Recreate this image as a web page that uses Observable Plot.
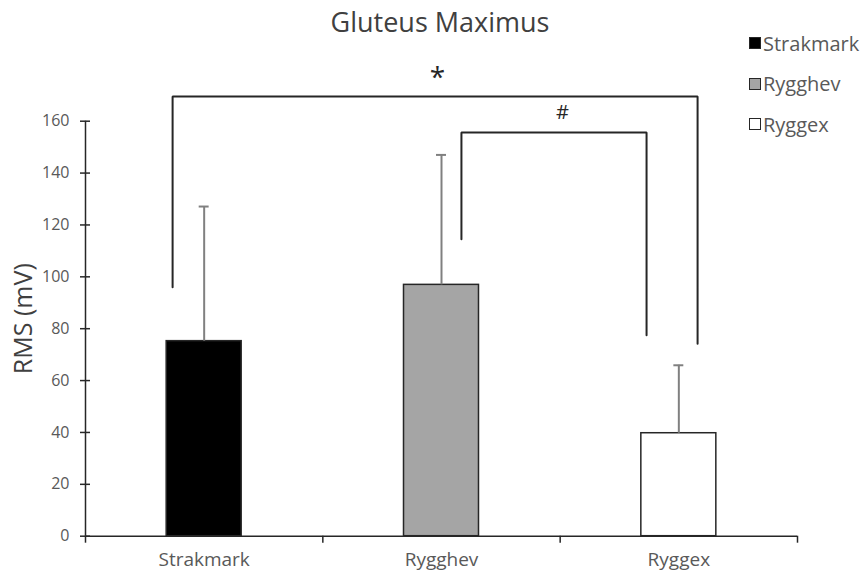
<!DOCTYPE html>
<html><head><meta charset="utf-8">
<script src="https://cdn.jsdelivr.net/npm/d3@7"></script>
<script src="https://cdn.jsdelivr.net/npm/@observablehq/plot@0.6"></script>
<style>
body{margin:0;background:#fff;font-family:"Open Sans",Lato,sans-serif;}
#wrap{position:relative;width:867px;height:574px;overflow:hidden;}
#title{height:40px;width:880px;text-align:center;font-size:27px;line-height:44px;color:#404040;}
#legend{position:absolute;left:749px;top:31px;}
.row{display:flex;align-items:center;height:24px;margin-bottom:16.5px;font-size:20px;color:#595959;white-space:nowrap;}
.sw{width:10px;height:10px;border:1.5px solid #262626;margin-right:2px;box-sizing:content-box;}
svg{display:block;}
</style></head>
<body>
<div id="wrap">
<div id="title">Gluteus Maximus</div>
<div id="chart"></div>
<div id="legend"></div>
</div>
<script>
const categories = ["Strakmark", "Rygghev", "Ryggex"];
const means = [75.2, 96.9, 39.7];
const errorTops = [127.1, 147.0, 65.9];
const yTicks = [0, 20, 40, 60, 80, 100, 120, 140, 160];
const yTitle = "RMS (mV)";
// significance brackets
const sigLabels = ["*", "#"];
const sigLevels = [169.5, 155.6];
const sigLeftEnds = [96, 114.5];
const sigRightEnds = [74.2, 77.5];
const sigLeftCat = [0, 1];
const sigRightCat = [2, 2];
const sigLeftOffset = [-0.133, 0.084];
const sigRightOffset = [0.079, -0.136];
const sigLabelX = [1.483, 2.01];
const sigLabelValue = [176.5, 163.3];

const fills = ["#000000", "#a5a5a5", "#ffffff"];
const half = 0.158;
const bars = categories.map((c, i) => ({c, i, x1: i + 0.5 - half, x2: i + 0.5 + half, mean: means[i], top: errorTops[i], fill: fills[i]}));
const bracketPts = [];
sigLabels.forEach((lab, k) => {
  const xl = sigLeftCat[k] + 0.5 + sigLeftOffset[k];
  const xr = sigRightCat[k] + 0.5 + sigRightOffset[k];
  bracketPts.push({k, x: xl, y: sigLeftEnds[k]}, {k, x: xl, y: sigLevels[k]}, {k, x: xr, y: sigLevels[k]}, {k, x: xr, y: sigRightEnds[k]});
});
const sigText = sigLabels.map((lab, k) => ({lab, x: sigLabelX[k], y: sigLabelValue[k]}));

const chart = Plot.plot({
  width: 867, height: 534,
  marginLeft: 85, marginRight: 70, marginTop: 80.7, marginBottom: 38.3,
  style: {fontFamily: "'Open Sans', Lato, sans-serif", background: "#fff"},
  x: {type: "linear", domain: [0, 3], axis: null},
  y: {domain: [0, 160], axis: null},
  marks: [
    Plot.rectY(bars, {x1: "x1", x2: "x2", y1: 0, y2: "mean", fill: "fill", stroke: "#262626", strokeWidth: 1.5}),
    Plot.ruleX(bars, {x: d => d.i + 0.5, y1: "mean", y2: "top", stroke: "#808080", strokeWidth: 2}),
    Plot.ruleY(bars, {y: "top", x1: d => d.i + 0.5 - 0.021, x2: d => d.i + 0.5 + 0.021, stroke: "#808080", strokeWidth: 2}),
    Plot.line(bracketPts, {x: "x", y: "y", z: "k", stroke: "#262626", strokeWidth: 2, strokeLinejoin: "miter"}),
    Plot.text(sigText.slice(0, 1), {x: "x", y: "y", text: "lab", fontSize: 28, fill: "#262626"}),
    Plot.text(sigText.slice(1), {x: "x", y: "y", text: "lab", fontSize: 20, fill: "#262626"}),
    Plot.ruleX([0], {y1: 0, y2: 160, stroke: "#262626", strokeWidth: 1.5}),
    Plot.ruleY([0], {x1: 0, x2: 3, stroke: "#262626", strokeWidth: 1.5}),
    Plot.axisY({ticks: yTicks, tickSize: 10, dx: 5, tickPadding: 11, fontSize: 16, color: "#595959", stroke: "#262626", strokeWidth: 1.5, label: null}),
    Plot.axisX({ticks: [0, 1, 2, 3], tickSize: 7, tickFormat: () => "", stroke: "#262626", strokeWidth: 1.5, label: null}),
    Plot.axisX({ticks: categories.map((c, i) => i + 0.5), tickSize: 0, tickPadding: 16, tickFormat: d => categories[Math.floor(d)], fontSize: 19, color: "#595959", label: null}),
    Plot.text([yTitle], {frameAnchor: "left", textAnchor: "middle", rotate: -90, dx: -62, dy: -10, fontSize: 25, fill: "#404040"})
  ]
});
document.getElementById("chart").append(chart);

const legend = document.getElementById("legend");
categories.forEach((c, i) => {
  const row = document.createElement("div");
  row.className = "row";
  const sw = document.createElement("span");
  sw.className = "sw";
  sw.style.background = fills[i];
  const t = document.createElement("span");
  t.textContent = c;
  row.append(sw, t);
  legend.append(row);
});
</script>
</body></html>
